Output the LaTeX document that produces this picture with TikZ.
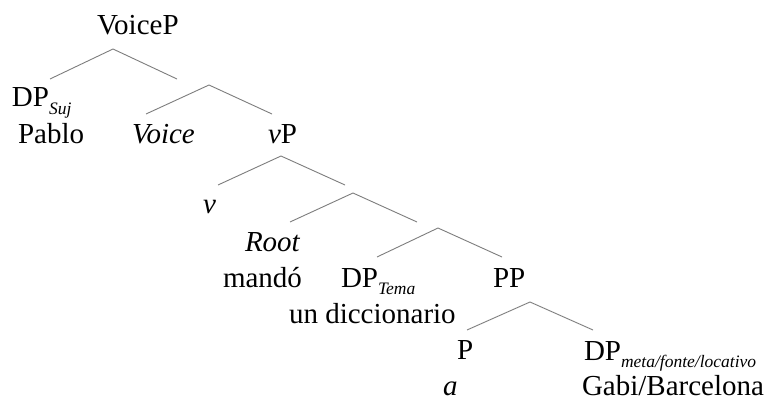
\documentclass[tikz,border=0pt]{standalone}
\usepackage{fontspec}
\setmainfont{Liberation Serif}
\definecolor{branch}{RGB}{125,125,125}
\newcommand{\subtxt}[1]{\raisebox{-7pt}{\fontsize{17.5}{17.5}\selectfont\itshape #1}}
\begin{document}
\begin{tikzpicture}[x=1pt,y=-1pt,
  lab/.style={anchor=base west,inner sep=0pt,outer sep=0pt,font=\fontsize{29}{30}\selectfont},
  br/.style={draw=branch,line width=0.9pt}]
\useasboundingbox[fill=white] (0,0) rectangle (768,401);
% labels
\node[lab] (voicep) at (97,35) {VoiceP};
\node[lab] (dpsuj) at (12,107) {DP\subtxt{Suj}};
\node[lab] (pablo) at (18,143) {Pablo};
\node[lab] (voice) at (132,143) {\itshape Voice};
\node[lab] (vp) at (268,143) {\textit{v}P};
\node[lab] (v) at (203,213) {\itshape v};
\node[lab] (root) at (245,251) {\itshape Root};
\node[lab] (mando) at (223,287) {mandó};
\node[lab] (dptema) at (341,287) {DP\subtxt{Tema}};
\node[lab] (dicc) at (289,323) {un diccionario};
\node[lab] (pp) at (493,287) {PP};
\node[lab] (p) at (457,359) {P};
\node[lab] (a) at (443,395) {\itshape a};
\node[lab] (dpmeta) at (584,360) {DP\subtxt{meta/fonte/locativo}};
\node[lab] (gabi) at (582,395) {Gabi/Barcelona};
% branch points
\coordinate (a1) at (113,49);
\coordinate (e1l) at (50,79);
\coordinate (e1r) at (177,79);
\coordinate (a2) at (209,85);
\coordinate (e2l) at (146,114);
\coordinate (e2r) at (272,114);
\coordinate (a3) at (281,156);
\coordinate (e3l) at (218,185);
\coordinate (e3r) at (345,185);
\coordinate (a4) at (353,193);
\coordinate (e4l) at (290,222);
\coordinate (e4r) at (417,222);
\coordinate (a5) at (438,228);
\coordinate (e5l) at (377,257);
\coordinate (e5r) at (502,257);
\coordinate (a6) at (530,302);
\coordinate (e6l) at (467,330);
\coordinate (e6r) at (593,330);
\draw[br] (e1l) -- (a1) -- (e1r);
\draw[br] (e2l) -- (a2) -- (e2r);
\draw[br] (e3l) -- (a3) -- (e3r);
\draw[br] (e4l) -- (a4) -- (e4r);
\draw[br] (e5l) -- (a5) -- (e5r);
\draw[br] (e6l) -- (a6) -- (e6r);
\end{tikzpicture}
\end{document}
